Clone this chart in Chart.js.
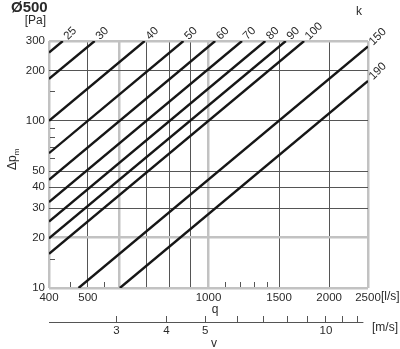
<!DOCTYPE html>
<html><head><meta charset="utf-8">
<script src="https://cdn.jsdelivr.net/npm/chart.js@4.4.1/dist/chart.umd.min.js"></script>
<style>html,body{margin:0;padding:0;background:#fff;}canvas{display:block;}</style>
</head><body>
<canvas id="c" width="400" height="349"></canvas>
<script>
// ---- data ----
const kLabels = ['25','30','40','50','60','70','80','90','100','150','190'];
const qStart  = [400, 400, 400, 400, 400, 400, 400, 400, 400, 474, 601];
const dpStart = [256, 178, 100, 64, 44.4, 32.7, 25, 19.8, 16, 10, 10];
const qEnd    = [433, 520, 693, 866, 1039, 1212, 1386, 1559, 1732, 2500, 2500];
const dpEnd   = [300, 300, 300, 300, 300, 300, 300, 300, 300, 278, 173];

const qGrid   = [400, 500, 600, 700, 800, 900, 1000, 1500, 2000, 2500];
const qLabels = [400, 500, 1000, 1500, 2000, 2500];
const qMinor  = [450, 550, 1100, 1200, 1300, 1400];
const dpGrid  = [10, 20, 30, 40, 50, 100, 200, 300];
const dpMinor = [15, 60, 70, 80, 90, 150];
const vLabels = [3, 4, 5, 10];
const vMinor  = [6, 7, 8, 9, 11, 12];
const vAxisEnd = 12.4;
const ductDiameter = 0.5; // m
const ductArea = Math.PI * ductDiameter * ductDiameter / 4;
const qMin = 400, qMax = 2500, dpMin = 10, dpMax = 300;

const FONT = '"Liberation Sans", Arial, Helvetica, sans-serif';
const GRAY = '#c2c2c2', DARK = '#555555', TEXT = '#2a2a2a';
const thickQ = [400, 600, 1000, 2500];
const thickDp = [10, 20, 300];

const datasets = kLabels.map((k, i) => ({
  label: k,
  data: [{x: qStart[i], y: dpStart[i]}, {x: qEnd[i], y: dpEnd[i]}],
  borderColor: '#161616', borderWidth: 2.4, pointRadius: 0, tension: 0, fill: false
}));

const extras = {
  id: 'extras',
  beforeDatasetsDraw(chart) {
    const ctx = chart.ctx, x = chart.scales.x, y = chart.scales.y, a = chart.chartArea;
    ctx.save();
    ctx.strokeStyle = DARK; ctx.lineWidth = 1;
    qMinor.forEach(v => {
      const px = Math.round(x.getPixelForValue(v)) + 0.5;
      ctx.beginPath(); ctx.moveTo(px, a.bottom - 1); ctx.lineTo(px, a.bottom - 6); ctx.stroke();
    });
    dpMinor.forEach(v => {
      const py = Math.round(y.getPixelForValue(v)) + 0.5;
      ctx.beginPath(); ctx.moveTo(a.left + 1, py); ctx.lineTo(a.left + 6, py); ctx.stroke();
    });
    ctx.restore();
  },
  afterDraw(chart) {
    const ctx = chart.ctx, x = chart.scales.x, y = chart.scales.y, v = chart.scales.v, a = chart.chartArea;
    ctx.save();
    // velocity axis line
    const vy = Math.round(v.top + 6) + 0.5;
    ctx.strokeStyle = DARK; ctx.lineWidth = 1;
    ctx.beginPath(); ctx.moveTo(a.left, vy); ctx.lineTo(v.getPixelForValue(vAxisEnd), vy); ctx.stroke();

    ctx.fillStyle = TEXT;
    ctx.textBaseline = 'middle';
    ctx.font = 'bold 15px ' + FONT;
    ctx.textAlign = 'left';
    ctx.fillText('Ø500', 11, 8);
    ctx.font = '12px ' + FONT;
    ctx.textAlign = 'right';
    ctx.fillText('[Pa]', 46, 21);
    ctx.textAlign = 'center';
    ctx.fillText('k', 359, 12);
    ctx.fillText('q', 215, 310);
    ctx.fillText('v', 214, 344);
    ctx.textAlign = 'left';
    ctx.fillText('[l/s]', 381, 297);
    ctx.fillText('[m/s]', 372, 328);
    // Δp_m
    ctx.save();
    ctx.translate(13, 160);
    ctx.rotate(-Math.PI / 2);
    ctx.textAlign = 'left';
    ctx.font = '12px ' + FONT;
    ctx.fillText('Δp', -10, 0);
    const w = ctx.measureText('Δp').width;
    ctx.font = '8px ' + FONT;
    ctx.fillText('m', -10 + w, 4);
    ctx.restore();
    // k labels at line ends
    ctx.font = '11.5px ' + FONT;
    kLabels.forEach((k, i) => {
      const px = x.getPixelForValue(qEnd[i]), py = y.getPixelForValue(dpEnd[i]);
      ctx.save();
      ctx.translate(px + 3, py - 3);
      ctx.rotate(-Math.PI / 4);
      ctx.textAlign = 'left';
      ctx.fillText(k, 0, 0);
      ctx.restore();
    });
    ctx.restore();
  }
};

new Chart(document.getElementById('c'), {
  type: 'line',
  data: { datasets },
  plugins: [extras],
  options: {
    responsive: false, animation: false, devicePixelRatio: 1,
    layout: { padding: { top: 41, right: 32, left: 0, bottom: 0 } },
    plugins: { legend: { display: false }, tooltip: { enabled: false } },
    scales: {
      x: {
        type: 'logarithmic', position: 'bottom', min: qMin, max: qMax, weight: 0,
        afterBuildTicks: s => { s.ticks = qGrid.map(val => ({ value: val })); },
        afterFit: s => { s.height = 28; },
        border: { display: false },
        grid: {
          drawTicks: false,
          color: c => thickQ.includes(c.tick && c.tick.value) ? GRAY : DARK,
          lineWidth: c => thickQ.includes(c.tick && c.tick.value) ? 2.5 : 1
        },
        ticks: {
          autoSkip: false, maxRotation: 0, minRotation: 0, padding: 3, color: TEXT,
          font: { family: FONT, size: 11.5 },
          callback: val => qLabels.includes(val) ? String(val) : ''
        }
      },
      v: {
        type: 'logarithmic', position: 'bottom', weight: 1,
        min: qMin / 1000 / ductArea, max: qMax / 1000 / ductArea,
        afterBuildTicks: s => { s.ticks = vLabels.concat(vMinor).sort((p, q) => p - q).map(val => ({ value: val })); },
        afterFit: s => { s.height = 33; },
        border: { display: false },
        grid: { drawOnChartArea: false, drawTicks: true, tickLength: 6, color: DARK, lineWidth: 1 },
        ticks: {
          autoSkip: false, maxRotation: 0, minRotation: 0, padding: 2, color: TEXT,
          font: { family: FONT, size: 11.5 },
          callback: val => vLabels.includes(val) ? String(val) : ''
        }
      },
      y: {
        type: 'logarithmic', position: 'left', min: dpMin, max: dpMax,
        afterBuildTicks: s => { s.ticks = dpGrid.map(val => ({ value: val })); },
        afterFit: s => { s.width = 49; },
        border: { display: false },
        grid: {
          drawTicks: false,
          color: c => thickDp.includes(c.tick && c.tick.value) ? GRAY : DARK,
          lineWidth: c => thickDp.includes(c.tick && c.tick.value) ? 2.5 : 1
        },
        ticks: {
          autoSkip: false, padding: 4, color: TEXT,
          font: { family: FONT, size: 11.5 },
          callback: val => dpGrid.includes(val) ? String(val) : ''
        }
      }
    }
  }
});
</script>
</body></html>
